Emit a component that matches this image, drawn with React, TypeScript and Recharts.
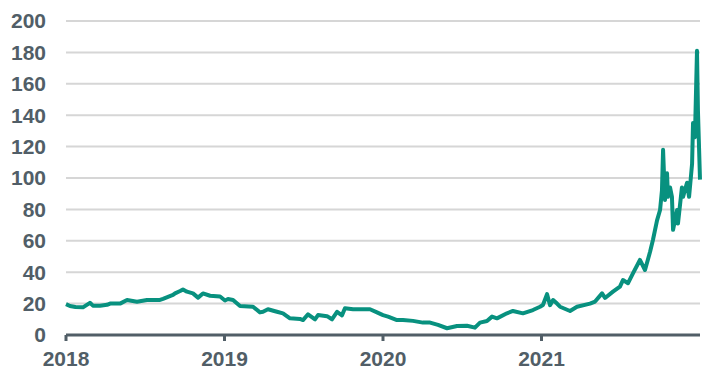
import { LineChart, Line, XAxis, YAxis, CartesianGrid } from "recharts";

// time as fractional year (same order in both)
const years = [
  2018.0, 2018.025, 2018.06, 2018.107, 2018.151, 2018.17, 2018.215, 2018.259, 2018.278, 2018.341,
  2018.385, 2018.448, 2018.511, 2018.593, 2018.612, 2018.675, 2018.688, 2018.72, 2018.738, 2018.763,
  2018.801, 2018.833, 2018.864, 2018.909, 2018.972, 2019.003, 2019.022, 2019.054, 2019.098, 2019.18,
  2019.224, 2019.243, 2019.274, 2019.331, 2019.369, 2019.413, 2019.476, 2019.495, 2019.527, 2019.571,
  2019.59, 2019.647, 2019.678, 2019.71, 2019.741, 2019.76, 2019.811, 2019.918, 2019.962, 2020.0,
  2020.032, 2020.088, 2020.126, 2020.189, 2020.252, 2020.297, 2020.347, 2020.404, 2020.467, 2020.53,
  2020.58, 2020.612, 2020.656, 2020.688, 2020.719, 2020.782, 2020.82, 2020.883, 2020.946, 2020.991,
  2021.009, 2021.035, 2021.054, 2021.073, 2021.098, 2021.117, 2021.18, 2021.224, 2021.306, 2021.338,
  2021.382, 2021.401, 2021.451, 2021.495, 2021.514, 2021.546, 2021.577, 2021.621, 2021.653, 2021.685,
  2021.703, 2021.729, 2021.748, 2021.76, 2021.767, 2021.779, 2021.792, 2021.798, 2021.811, 2021.823,
  2021.83, 2021.855, 2021.861, 2021.886, 2021.893, 2021.918, 2021.931, 2021.95, 2021.956, 2021.968,
  2021.981, 2021.987, 2022.0,
];

const prices = [
  19.7, 18.5, 17.8, 17.6, 20.5, 18.7, 18.7, 19.2, 20, 20,
  22.3, 21.2, 22.3, 22.3, 23, 25.5, 26.5, 28, 29, 27.6,
  26.5, 23.8, 26.5, 25, 24.5, 22, 22.9, 22.3, 18.5, 18,
  14.4, 14.8, 16.4, 14.8, 13.8, 10.6, 10.2, 9.5, 13.2, 10,
  12.7, 12, 10, 14.8, 12.5, 17, 16.4, 16.4, 14.4, 12.7,
  11.7, 9.5, 9.5, 9, 7.9, 7.9, 6.4, 4.3, 5.7, 5.9,
  4.7, 7.9, 8.9, 11.7, 10.6, 13.8, 15.3, 13.8, 15.9, 18,
  19.1, 26, 19, 22.3, 20, 18, 15.3, 18, 20, 21.3,
  26.5, 23.6, 27.6, 30.8, 35, 33, 39.3, 47.8, 41.4, 53,
  60.5, 73, 79.6, 92, 118, 86, 103, 88, 94, 88,
  67, 79.6, 71, 94, 88, 97, 88, 109, 135, 126,
  181, 143, 99,
];

const yTicks = [0, 20, 40, 60, 80, 100, 120, 140, 160, 180, 200];
const xTicks = [2018, 2019, 2020, 2021];

const data = years.map((t, i) => ({ t, v: prices[i] }));

const axisColor = "#515e67";
const font = "'Liberation Sans', Arial, sans-serif";

export default function App() {
  return (
    <div style={{ position: "absolute", left: 0, top: 0, width: 725, height: 381, background: "#fff" }}>
      <LineChart
        width={725}
        height={381}
        data={data}
        margin={{ top: 21, right: 25, left: 0, bottom: 0 }}
      >
        <CartesianGrid vertical={false} stroke="#d6d6d6" strokeWidth={2} />
        <XAxis
          dataKey="t"
          type="number"
          domain={[2018, 2022]}
          ticks={xTicks}
          interval={0}
          height={46}
          tickFormatter={(v) => String(v)}
          axisLine={{ stroke: axisColor, strokeWidth: 3 }}
          tickLine={{ stroke: axisColor, strokeWidth: 3 }}
          tickSize={6}
          tickMargin={10}
          tick={{ fill: axisColor, fontSize: 21, fontWeight: "bold", fontFamily: font }}
        />
        <YAxis
          width={66}
          domain={[0, 200]}
          ticks={yTicks}
          interval={0}
          axisLine={false}
          tickLine={false}
          tickMargin={14}
          tick={{ fill: axisColor, fontSize: 21, fontWeight: "bold", fontFamily: font }}
        />
        <Line
          type="linear"
          dataKey="v"
          stroke="#08917f"
          strokeWidth={4}
          strokeLinejoin="round"
          dot={false}
          isAnimationActive={false}
        />
      </LineChart>
    </div>
  );
}
